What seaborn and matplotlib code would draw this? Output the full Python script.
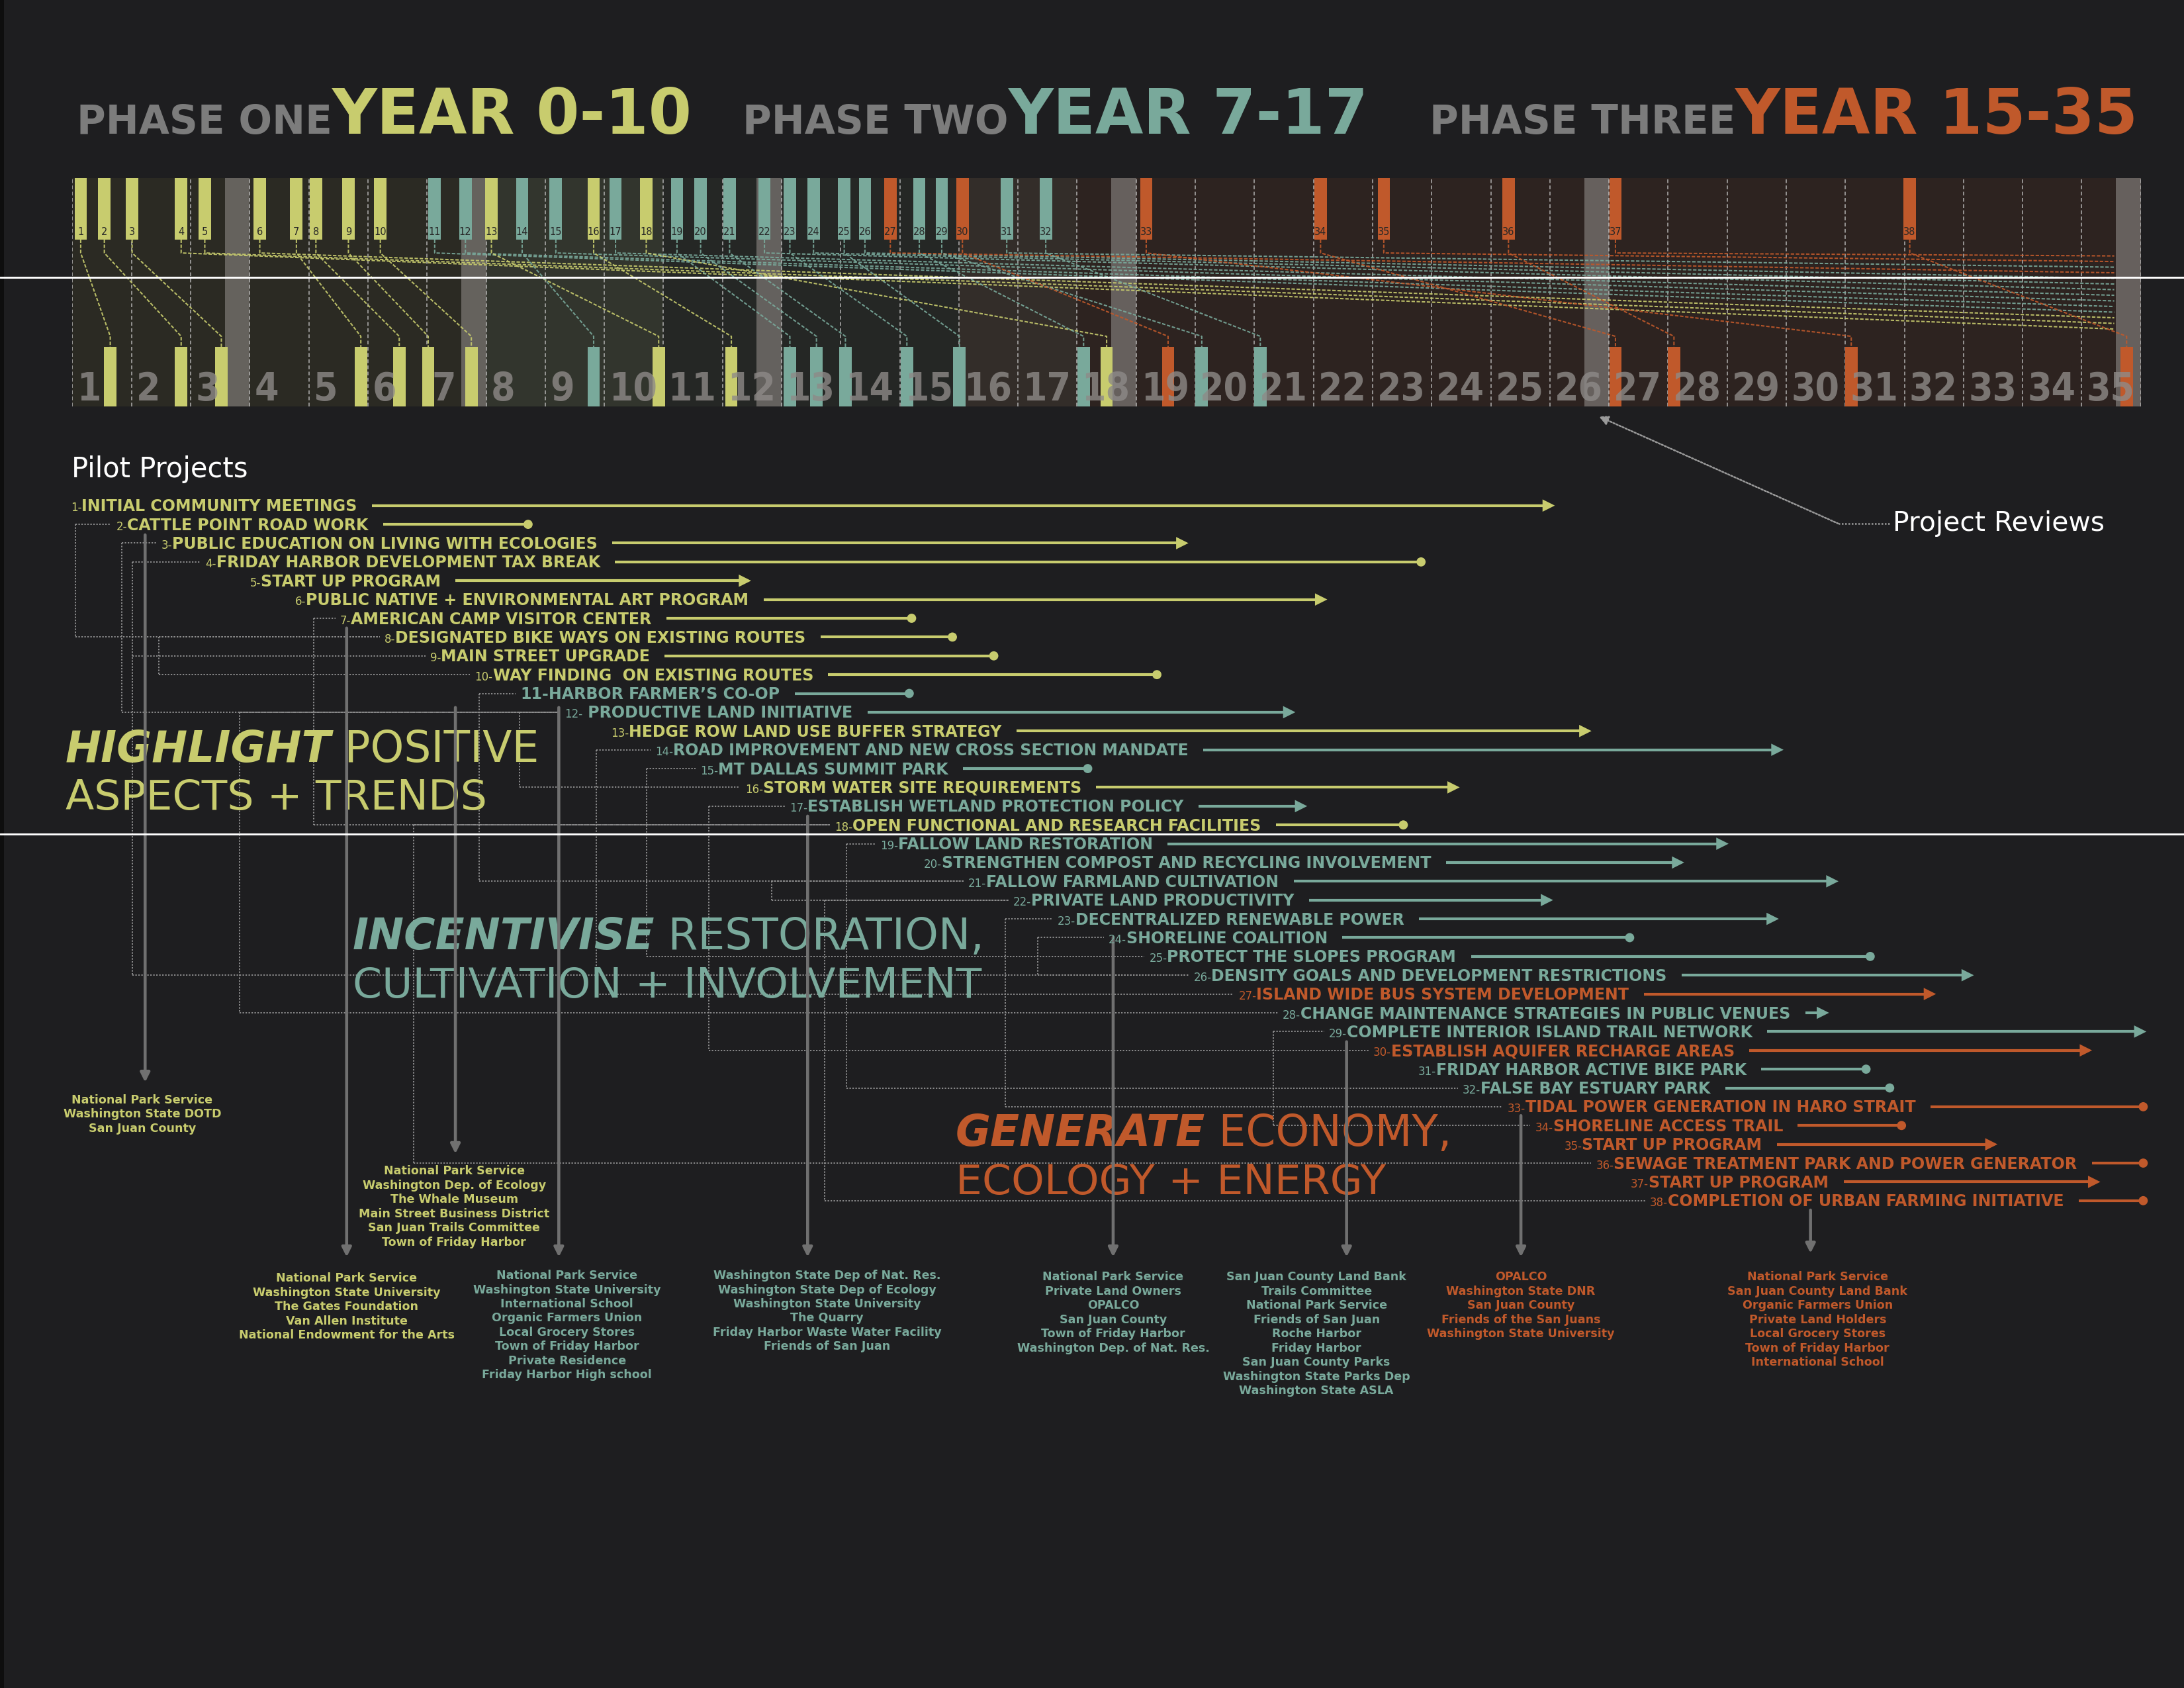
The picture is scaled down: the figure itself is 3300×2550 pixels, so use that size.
import numpy as np
import pandas as pd
import matplotlib
matplotlib.use("Agg")
import matplotlib.pyplot as plt
import seaborn as sns

sns.set_theme(style="dark")
plt.rcParams['font.family'] = ['DejaVu Sans']

BG = '#1e1e20'
YEL = '#c8cc6e'
TEAL = '#79a99b'
ORG = '#c0592b'
GREY = '#7c7c7c'
phase_col = {1: YEL, 2: TEAL, 3: ORG}

# ---- data (x in years of the 35 year timeline, y in project rows)
project_names = [
    "INITIAL COMMUNITY MEETINGS", "CATTLE POINT ROAD WORK",
    "PUBLIC EDUCATION ON LIVING WITH ECOLOGIES", "FRIDAY HARBOR DEVELOPMENT TAX BREAK",
    "START UP PROGRAM", "PUBLIC NATIVE + ENVIRONMENTAL ART PROGRAM",
    "AMERICAN CAMP VISITOR CENTER", "DESIGNATED BIKE WAYS ON EXISTING ROUTES",
    "MAIN STREET UPGRADE", "WAY FINDING  ON EXISTING ROUTES",
    "HARBOR FARMER\u2019S CO-OP", " PRODUCTIVE LAND INITIATIVE",
    "HEDGE ROW LAND USE BUFFER STRATEGY", "ROAD IMPROVEMENT AND NEW CROSS SECTION MANDATE",
    "MT DALLAS SUMMIT PARK", "STORM WATER SITE REQUIREMENTS",
    "ESTABLISH WETLAND PROTECTION POLICY", "OPEN FUNCTIONAL AND RESEARCH FACILITIES",
    "FALLOW LAND RESTORATION", "STRENGTHEN COMPOST AND RECYCLING INVOLVEMENT",
    "FALLOW FARMLAND CULTIVATION", "PRIVATE LAND PRODUCTIVITY",
    "DECENTRALIZED RENEWABLE POWER", "SHORELINE COALITION",
    "PROTECT THE SLOPES PROGRAM", "DENSITY GOALS AND DEVELOPMENT RESTRICTIONS",
    "ISLAND WIDE BUS SYSTEM DEVELOPMENT", "CHANGE MAINTENANCE STRATEGIES IN PUBLIC VENUES",
    "COMPLETE INTERIOR ISLAND TRAIL NETWORK", "ESTABLISH AQUIFER RECHARGE AREAS",
    "FRIDAY HARBOR ACTIVE BIKE PARK", "FALSE BAY ESTUARY PARK",
    "TIDAL POWER GENERATION IN HARO STRAIT", "SHORELINE ACCESS TRAIL",
    "START UP PROGRAM", "SEWAGE TREATMENT PARK AND POWER GENERATOR",
    "START UP PROGRAM", "COMPLETION OF URBAN FARMING INITIATIVE",
]
project_phase = [1, 1, 1, 1, 1, 1, 1, 1, 1, 1, 2, 2, 1, 2, 2, 1, 2, 1, 2, 2,
                 2, 2, 2, 2, 2, 2, 3, 2, 2, 3, 2, 2, 3, 3, 3, 3, 3, 3]
end_kind = ['arrow', 'dot', 'arrow', 'dot', 'arrow', 'arrow', 'dot', 'dot', 'dot', 'dot',
            'dot', 'arrow', 'arrow', 'arrow', 'dot', 'arrow', 'arrow', 'dot', 'arrow', 'arrow',
            'arrow', 'arrow', 'arrow', 'dot', 'dot', 'arrow', 'arrow', 'arrow', 'arrow', 'arrow',
            'dot', 'dot', 'dot', 'dot', 'arrow', 'dot', 'arrow', 'dot']
label_x = [-0.03, 0.74, 1.50, 2.25, 3.00, 3.77, 4.53, 5.28, 6.05, 6.81,
           7.58, 8.33, 9.11, 9.86, 10.62, 11.38, 12.14, 12.90, 13.67, 14.41,
           15.16, 15.92, 16.67, 17.53, 18.22, 18.97, 19.73, 20.48, 21.26, 22.01,
           22.77, 23.52, 24.28, 24.75, 25.24, 25.78, 26.37, 26.69]
end_x = [25.08, 7.76, 18.88, 22.87, 11.48, 21.23, 14.25, 14.94, 15.64, 18.40,
         14.21, 20.69, 25.70, 28.95, 17.23, 23.47, 20.89, 22.57, 28.02, 27.27,
         29.88, 25.05, 28.87, 26.40, 30.47, 32.17, 31.53, 29.72, 35.09, 34.17,
         30.40, 30.80, 35.09, 31.00, 32.57, 35.09, 34.31, 35.09]

# timeline: top bar position of each project, bottom bar it links to (None = final review)
top_pos = [0.14, 0.54, 1.01, 1.84, 2.24, 3.17, 3.79, 4.12, 4.67, 5.21,
           6.13, 6.65, 7.09, 7.61, 8.18, 8.82, 9.19, 9.71, 10.23, 10.63,
           11.12, 11.71, 12.14, 12.54, 13.06, 13.41, 13.84, 14.33, 14.71, 15.06,
           15.81, 16.47, 18.17, 21.12, 22.19, 24.30, 26.11, 31.09]
bottom_pos = [0.64, 1.84, 2.52, None, None, None, 4.88, 5.53, 6.02, 6.75,
              None, None, 9.92, 8.82, None, 11.15, None, 17.50, 12.14, 12.59,
              13.08, None, 14.12, None, 15.01, None, None, 17.11, 19.11, 18.54,
              None, 20.10, 30.10, 26.11, None, 27.10, None, 34.76]
review_years = [3, 7, 12, 18, 26, 35]
years = list(range(1, 36))
phase_spans = [(1, 0, 10), (2, 7, 17), (3, 15, 35)]

titles = [("PHASE ONE", "YEAR 0-10", 1, 0.07),
          ("PHASE TWO", "YEAR 7-17", 2, 11.34),
          ("PHASE THREE", "YEAR 15-35", 3, 22.96)]

# dotted links between related projects: trunk x, rows
links = [(0.05, [2, 8]), (0.83, [3, 12]), (1.01, [4, 9, 26]), (1.46, [8, 10]),
         (2.83, [12, 28]), (4.08, [7, 18]), (5.77, [18, 36]), (6.88, [11, 21]),
         (7.57, [12, 16]), (8.86, [14, 27]), (9.71, [15, 25]), (10.77, [17, 30]),
         (11.83, [21, 22]), (12.73, [22, 38]), (13.10, [19, 32]), (15.79, [23, 33]),
         (16.33, [24, 26]), (20.32, [29, 34])]

# partner groups: arrow x, arrow start row, arrow end row, text x, first text row, phase, names
partners = [
    (1.23, 2.56, 31.7, 1.18, 32.65, 1,
     ["National Park Service", "Washington State DOTD", "San Juan County"]),
    (4.64, 7.52, 41.0, 4.64, 42.14, 1,
     ["National Park Service", "Washington State University", "The Gates Foundation",
      "Van Allen Institute", "National Endowment for the Arts"]),
    (6.48, 11.75, 35.5, 6.46, 36.43, 1,
     ["National Park Service", "Washington Dep. of Ecology", "The Whale Museum",
      "Main Street Business District", "San Juan Trails Committee", "Town of Friday Harbor"]),
    (8.23, 11.75, 41.0, 8.37, 41.99, 2,
     ["National Park Service", "Washington State University", "International School",
      "Organic Farmers Union", "Local Grocery Stores", "Town of Friday Harbor",
      "Private Residence", "Friday Harbor High school"]),
    (12.44, 17.53, 41.0, 12.77, 41.99, 2,
     ["Washington State Dep of Nat. Res.", "Washington State Dep of Ecology",
      "Washington State University", "The Quarry", "Friday Harbor Waste Water Facility",
      "Friends of San Juan"]),
    (17.61, 23.98, 41.0, 17.61, 42.07, 2,
     ["National Park Service", "Private Land Owners", "OPALCO", "San Juan County",
      "Town of Friday Harbor", "Washington Dep. of Nat. Res."]),
    (21.56, 29.54, 41.0, 21.05, 42.07, 2,
     ["San Juan County Land Bank", "Trails Committee", "National Park Service",
      "Friends of San Juan", "Roche Harbor", "Friday Harbor", "San Juan County Parks",
      "Washington State Parks Dep", "Washington State ASLA"]),
    (24.51, 33.47, 41.0, 24.51, 42.07, 3,
     ["OPALCO", "Washington State DNR", "San Juan County", "Friends of the San Juans",
      "Washington State University"]),
    (29.41, 38.5, 40.8, 29.53, 42.07, 3,
     ["National Park Service", "San Juan County Land Bank", "Organic Farmers Union",
      "Private Land Holders", "Local Grocery Stores", "Town of Friday Harbor",
      "International School"]),
]

themes = [("HIGHLIGHT", " POSITIVE", "ASPECTS + TRENDS", 1, -0.12, 14.0),
          ("INCENTIVISE", " RESTORATION,", "CULTIVATION + INVOLVEMENT", 2, 4.74, 24.0),
          ("GENERATE", " ECONOMY,", "ECOLOGY + ENERGY", 3, 14.94, 34.45)]

# ---- figure
fig = plt.figure(figsize=(11, 8.5), dpi=300, facecolor=BG)

# timeline axes (x in years)
axB = fig.add_axes([52 / 1568, 1 - 292 / 1212, 1485 / 1568, 164 / 1212])
axB.set_xlim(0, 35)
axB.set_ylim(0, 1)
axB.axis('off')
axB.axvspan(0, 35, color='#1d1b1a', lw=0, zorder=0)
span_col = {1: ('#8c9664', 0.13), 2: (TEAL, 0.09), 3: ('#6e463c', 0.2)}
for ph, a, b in phase_spans:
    axB.axvspan(a, b, color=span_col[ph][0], alpha=span_col[ph][1], lw=0, zorder=0.5)
for ry in review_years:
    axB.axvspan(ry - 0.42, ry, color='#7a7572', alpha=0.75, lw=0, zorder=1)
for k in range(0, 36):
    axB.axvline(k, color='#c8c8c8', lw=0.45, ls=(0, (3, 2)), alpha=0.7, zorder=1.5)

BAR_W = 0.21
TOP_Y0, KINK_TOP, KINK_BOT, BOT_Y1 = 0.732, 0.673, 0.308, 0.262
final_ids = [i for i, b in enumerate(bottom_pos) if b is None]
final_y = dict(zip(final_ids, np.linspace(0.34, 0.66, len(final_ids))))
for i in range(38):
    c = phase_col[project_phase[i]]
    if bottom_pos[i] is not None:
        xs = [top_pos[i], top_pos[i], bottom_pos[i], bottom_pos[i]]
        ys = [TOP_Y0, KINK_TOP, KINK_BOT, BOT_Y1]
    else:
        xs = [top_pos[i], top_pos[i], 34.55]
        ys = [TOP_Y0, KINK_TOP, final_y[i]]
    axB.plot(xs, ys, color=c, lw=0.5, ls=(0, (2.5, 1.2)), alpha=0.9, zorder=2)

top_cols = [phase_col[p] for p in project_phase]
axB.bar(top_pos, 1 - TOP_Y0, bottom=TOP_Y0, width=BAR_W, color=top_cols, lw=0, zorder=3)
bot = [(b, phase_col[p]) for b, p in zip(bottom_pos, project_phase) if b is not None]
axB.bar([b for b, _ in bot], BOT_Y1, bottom=0, width=BAR_W,
        color=[c for _, c in bot], lw=0, zorder=3)
for i in range(38):
    axB.text(top_pos[i], 0.765, str(i + 1), fontsize=3.5, color='#262626',
             ha='center', va='center', zorder=4)
for y in years:
    axB.text(y - 1 + 0.08, 0.075, str(y), fontsize=14, fontweight='bold',
             fontstretch='condensed', color='#8e8a88', alpha=0.8,
             ha='left', va='center', zorder=5)

# full page axes (x in years, y in project rows)
axA = fig.add_axes([0, 0, 1, 1])
axA.set_zorder(3)
axA.patch.set_visible(False)
axA.set_xlim(-1.2255, 35.73)
axA.set_ylim(63.94, -25.91)
axA.axis('off')
r = fig.canvas.get_renderer()
inv = axA.transData.inverted()


def right_edge(t):
    bb = t.get_window_extent(renderer=r)
    return inv.transform((bb.x1, bb.y0))[0]


axA.axvspan(-1.2255, -1.16, color='#0e0e0e', lw=0)
axA.axhline(-11.16, color='white', lw=0.7, zorder=6)
axA.axhline(18.49, color='white', lw=0.7, zorder=6)

# titles
for phase_txt, year_txt, ph, x in titles:
    t = axA.text(x, -18.8, phase_txt, fontsize=14.3, fontweight='bold', color=GREY,
                 ha='left', va='baseline')
    axA.text(right_edge(t), -18.8, year_txt, fontsize=22.5, fontweight='bold',
             color=phase_col[ph], ha='left', va='baseline')

axA.text(-0.02, -0.93, "Pilot Projects", fontsize=10, color='white', ha='left', va='center')

# dotted project links
for tx, rows in links:
    axA.plot([tx, tx], [min(rows), max(rows)], color='#8f8f8f', lw=0.45,
             ls=(0, (1.2, 1.2)), zorder=1)
    for rw in rows:
        axA.plot([tx, label_x[rw - 1] - 0.08], [rw, rw], color='#8f8f8f', lw=0.45,
                 ls=(0, (1.2, 1.2)), zorder=1)

# project rows
rows_df = pd.DataFrame({'row': np.arange(1, 39), 'phase': project_phase,
                        'kind': end_kind, 'end': end_x})
for i in range(38):
    row = i + 1
    c = phase_col[project_phase[i]]
    if row == 11:
        t = axA.text(label_x[i], row + 0.3, f"{row}-", fontsize=5.7, fontweight='bold',
                     color=c, ha='left', va='baseline', zorder=4)
    else:
        t = axA.text(label_x[i], row + 0.3, f"{row}-", fontsize=4.0, color=c,
                     ha='left', va='baseline', zorder=4)
    n = axA.text(right_edge(t), row + 0.3, project_names[i], fontsize=5.7,
                 fontweight='bold', color=c, ha='left', va='baseline', zorder=4)
    x0 = right_edge(n) + 0.25
    axA.plot([x0, end_x[i] - 0.08], [row, row], color=c, lw=1.0,
             solid_capstyle='butt', zorder=3)
rows_df['mark'] = np.where(rows_df['kind'] == 'arrow', rows_df['end'] - 0.1, rows_df['end'] - 0.05)
sns.scatterplot(data=rows_df, x='mark', y='row', hue='phase', style='kind', size='kind',
                palette=phase_col, markers={'arrow': '>', 'dot': 'o'},
                sizes={'arrow': 20, 'dot': 11}, linewidth=0, legend=False, ax=axA, zorder=4)
axA.set_xlim(-1.2255, 35.73)
axA.set_ylim(63.94, -25.91)
axA.axis('off')

# theme headings
for bold_w, rest, line2, ph, x, y in themes:
    c = phase_col[ph]
    t = axA.text(x, y, bold_w, fontsize=15.5, fontweight='bold', fontstyle='italic',
                 color=c, ha='left', va='center', zorder=2)
    axA.text(right_edge(t), y, rest, fontsize=15.5, color=c, ha='left', va='center', zorder=2)
    axA.text(x, y + 2.6, line2, fontsize=15.2, color=c, ha='left', va='center', zorder=2)

# partner groups
for ax_x, y0, y1, tx, ty, ph, names in partners:
    axA.annotate('', xy=(ax_x, y1), xytext=(ax_x, y0),
                 arrowprops=dict(arrowstyle='-|>', color='#707070', lw=1.1,
                                 mutation_scale=7, shrinkA=0, shrinkB=0), zorder=2)
    for j, nm in enumerate(names):
        axA.text(tx, ty + j * 0.756, nm, fontsize=4.2, fontweight='bold',
                 color=phase_col[ph], ha='center', va='center', zorder=4)

# project reviews callout
axA.text(30.80, 1.96, "Project Reviews", fontsize=9.8, color='white', ha='left', va='center')
axA.plot([30.75, 29.88], [1.96, 1.96], color='#9a9a9a', lw=0.6, ls=(0, (1, 1)))
axA.annotate('', xy=(25.83, -3.74), xytext=(29.88, 1.96),
             arrowprops=dict(arrowstyle='-|>', color='#9a9a9a', lw=0.6, ls=(0, (1, 1)),
                             mutation_scale=7, shrinkA=0, shrinkB=0))

fig.savefig('out.png', dpi=300, facecolor=BG)
